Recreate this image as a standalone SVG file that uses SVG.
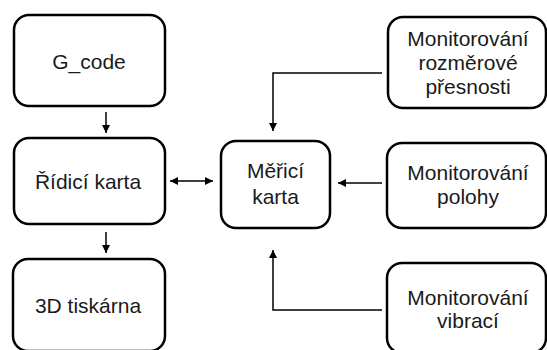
<svg xmlns="http://www.w3.org/2000/svg" width="547" height="350" viewBox="0 0 547 350">
  <style>
    .box { fill: #ffffff; stroke: #000000; stroke-width: 2.5; }
    .lbl { font-family: "Liberation Sans", Arial, sans-serif; font-size: 21px; fill: #1a1a1a; text-anchor: middle; }
    .wire { fill: none; stroke: #000000; stroke-width: 1.5; }
  </style>
  <defs>
    <marker id="head" viewBox="0 0 10 10" refX="10" refY="5" markerWidth="8" markerHeight="8" markerUnits="userSpaceOnUse" orient="auto-start-reverse">
      <path d="M0,0 L10,5 L0,10 Z" fill="#000000"/>
    </marker>
  </defs>
  <rect width="547" height="350" fill="#ffffff"/>

  <g id="gcode">
    <rect class="box" x="14" y="15" width="151" height="91" rx="15"/>
    <text class="lbl" x="89" y="68.5">G_code</text>
  </g>
  <g id="ridici-karta">
    <rect class="box" x="14" y="138" width="151" height="86" rx="15"/>
    <text class="lbl" x="88" y="188.5">Řídicí karta</text>
  </g>
  <g id="tiskarna">
    <rect class="box" x="13" y="259" width="152" height="92" rx="15"/>
    <text class="lbl" x="88" y="313">3D tiskárna</text>
  </g>
  <g id="merici-karta">
    <rect class="box" x="221" y="141" width="109" height="87" rx="15"/>
    <text class="lbl" x="275.5" y="178">Měřicí</text>
    <text class="lbl" x="275.5" y="204">karta</text>
  </g>
  <g id="mon-presnost">
    <rect class="box" x="388" y="17" width="158" height="91" rx="15"/>
    <text class="lbl" x="468" y="46">Monitorování</text>
    <text class="lbl" x="468" y="70">rozměrové</text>
    <text class="lbl" x="468" y="94">přesnosti</text>
  </g>
  <g id="mon-poloha">
    <rect class="box" x="387" y="143" width="159" height="85" rx="15"/>
    <text class="lbl" x="468" y="180">Monitorování</text>
    <text class="lbl" x="468" y="203.5">polohy</text>
  </g>
  <g id="mon-vibrace">
    <rect class="box" x="387" y="263" width="159" height="90" rx="15"/>
    <text class="lbl" x="468" y="305">Monitorování</text>
    <text class="lbl" x="468" y="328">vibrací</text>
  </g>

  <g id="connectors">
    <line class="wire" x1="106" y1="112" x2="106" y2="133" marker-end="url(#head)"/>
    <line class="wire" x1="106" y1="232" x2="106" y2="253" marker-end="url(#head)"/>
    <line class="wire" x1="170" y1="181" x2="213" y2="181" marker-start="url(#head)" marker-end="url(#head)"/>
    <polyline class="wire" points="382,73 273,73 273,131" marker-end="url(#head)"/>
    <line class="wire" x1="382" y1="183" x2="338" y2="183" marker-end="url(#head)"/>
    <polyline class="wire" points="382,310 273,310 273,250" marker-end="url(#head)"/>
  </g>
</svg>
